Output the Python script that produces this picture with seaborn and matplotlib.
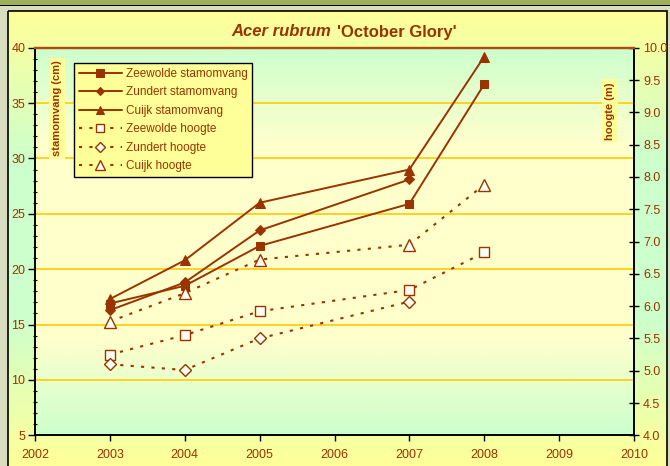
import numpy as np
import pandas as pd
import seaborn as sns
import matplotlib.pyplot as plt
from matplotlib.patches import Rectangle
from matplotlib.colors import LinearSegmentedColormap
from matplotlib.ticker import MultipleLocator, FormatStrFormatter

# data
jaren = [2003, 2004, 2005, 2007, 2008]
zeewolde_stam = [16.9, 18.5, 22.1, 25.9, 36.7]
zundert_stam = [16.3, 18.8, 23.5, 28.1, np.nan]
cuijk_stam = [17.3, 20.8, 26.0, 29.0, 39.2]
zeewolde_hoogte = [5.25, 5.55, 5.92, 6.25, 6.83]
zundert_hoogte = [5.10, 5.01, 5.50, 6.07, np.nan]
cuijk_hoogte = [5.76, 6.20, 6.72, 6.95, 7.88]

x_ticks = list(range(2002, 2011))

BROWN = '#993300'
GOLD = '#FFD21F'

sns.set_theme(style='white')
plt.rcParams['font.family'] = ['Liberation Sans', 'DejaVu Sans']

fig = plt.figure(figsize=(6.7, 4.66), dpi=100)
fig.patch.set_facecolor('#D8DDC0')

# frame of the chart (gradient yellow - green - yellow)
bg = fig.add_axes([0, 0, 1, 1], zorder=-10)
bg.set_xlim(0, 670)
bg.set_ylim(466, 0)
bg.axis('off')
frame_cmap = LinearSegmentedColormap.from_list('frame', ['#FFFF99', '#CCFFCC', '#CCFFCC', '#FFFF99'])
bg.imshow(np.linspace(0, 1, 256).reshape(-1, 1), cmap=frame_cmap, aspect='auto',
          extent=(8, 667, 466, 11), zorder=0)
bg.add_patch(Rectangle((8, 11), 659, 460, fill=False, edgecolor='black', lw=1.2, zorder=2))
bg.add_patch(Rectangle((0, 0), 670, 4.5, facecolor='#9CB05A', edgecolor='none', zorder=2))
bg.add_patch(Rectangle((0, 4.5), 670, 1.5, facecolor='black', edgecolor='none', zorder=2))

ax = fig.add_axes([35 / 670, 1 - 435.3 / 466, 599 / 670, 387.6 / 466])
ax.patch.set_visible(False)
plot_cmap = LinearSegmentedColormap.from_list('plot', ['#CCFFCC', '#FFFFCC', '#FFFFCC', '#FFFFCC', '#CCFFCC'])
ax.imshow(np.linspace(0, 1, 256).reshape(-1, 1), cmap=plot_cmap, aspect='auto',
          extent=(2002, 2010, 5, 40), origin='upper', zorder=0)

ax2 = ax.twinx()
ax2.patch.set_visible(False)

stam = pd.DataFrame({'jaar': jaren, 'Zeewolde': zeewolde_stam,
                     'Zundert': zundert_stam, 'Cuijk': cuijk_stam})
hoogte = pd.DataFrame({'jaar': jaren, 'Zeewolde': zeewolde_hoogte,
                       'Zundert': zundert_hoogte, 'Cuijk': cuijk_hoogte})
markers = {'Zeewolde': 's', 'Zundert': 'D', 'Cuijk': '^'}
msize = {'Zeewolde': 6, 'Zundert': 5, 'Cuijk': 7}

for plaats in ['Zeewolde', 'Zundert', 'Cuijk']:
    d = stam[['jaar', plaats]].dropna()
    sns.lineplot(data=d, x='jaar', y=plaats, ax=ax, color=BROWN, lw=1.4,
                 marker=markers[plaats], markersize=msize[plaats],
                 markeredgecolor=BROWN, markerfacecolor=BROWN,
                 label=f'{plaats} stamomvang', legend=False, zorder=5)
for plaats in ['Zeewolde', 'Zundert', 'Cuijk']:
    d = hoogte[['jaar', plaats]].dropna()
    sns.lineplot(data=d, x='jaar', y=plaats, ax=ax2, color=BROWN, lw=1.5,
                 linestyle=(0, (1.5, 3.5)),
                 marker=markers[plaats], markersize=msize[plaats] + 1,
                 markeredgecolor=BROWN, markerfacecolor='#FFFFF4', markeredgewidth=1.0,
                 label=f'{plaats} hoogte', legend=False, zorder=5)

ax.set_xlim(2002, 2010)
ax.set_ylim(5, 40)
ax2.set_ylim(4, 10)
ax.set_xticks(x_ticks)
ax.set_xticklabels([str(j) for j in x_ticks])
ax.yaxis.set_major_locator(MultipleLocator(5))
ax.yaxis.set_minor_locator(MultipleLocator(1))
ax2.yaxis.set_major_locator(MultipleLocator(0.5))
ax2.yaxis.set_major_formatter(FormatStrFormatter('%.1f'))

for yv in range(10, 40, 5):
    ax.axhline(yv, color=GOLD, lw=1.4, zorder=1)

ax.set_xlabel('')
ax.set_ylabel('')
ax2.set_ylabel('')

ax.tick_params(axis='x', which='major', direction='out', length=4, width=1,
               colors='black', labelcolor=BROWN, labelsize=9, pad=6, bottom=True)
ax.tick_params(axis='y', which='major', direction='out', length=5, width=1,
               colors='black', labelcolor=BROWN, labelsize=9, pad=2, left=True)
ax.tick_params(axis='y', which='minor', direction='inout', length=3, width=0.8,
               colors='black', left=True)
ax2.tick_params(axis='y', which='major', direction='inout', length=7, width=1,
                colors='black', labelcolor=BROWN, labelsize=9, pad=3, right=True)

for a in (ax, ax2):
    for side in ['left', 'right', 'bottom']:
        a.spines[side].set_color('black')
        a.spines[side].set_linewidth(1.2)
    a.spines['top'].set_color('#B04A10')
    a.spines['top'].set_linewidth(1.6)

# title: italic species name followed by cultivar name
fig.text(331 / 670, 1 - 32 / 466, 'Acer rubrum', color=BROWN, ha='right', va='center',
         fontsize=12, fontweight='bold', style='italic')
fig.text(337 / 670, 1 - 32 / 466, "'October Glory'", color=BROWN, ha='left', va='center',
         fontsize=12, fontweight='bold')

box = dict(boxstyle='square,pad=0.25', facecolor='#FFFF99', edgecolor='none')
ax.text(0.037, 0.843, 'stamomvang (cm)', transform=ax.transAxes, rotation=90,
        ha='center', va='center', fontsize=8, fontweight='bold', color=BROWN, bbox=box, zorder=6)
ax2.text(0.96, 0.837, 'hoogte (m)', transform=ax2.transAxes, rotation=90,
         ha='center', va='center', fontsize=8, fontweight='bold', color=BROWN, bbox=box, zorder=6)

h1, l1 = ax.get_legend_handles_labels()
h2, l2 = ax2.get_legend_handles_labels()
leg = ax2.legend(h1 + h2, l1 + l2, loc='upper left', bbox_to_anchor=(0.0656, 0.96),
                 borderaxespad=0, frameon=True, fancybox=False, fontsize=8.5,
                 handlelength=3.6, handletextpad=0.35, labelspacing=0.55,
                 borderpad=0.4, labelcolor=BROWN, markerscale=0.85)
leg.get_frame().set_facecolor('#FFFF99')
leg.get_frame().set_edgecolor('black')
leg.get_frame().set_linewidth(1.0)
leg.get_frame().set_alpha(1)
leg.set_zorder(10)

fig.savefig('out.png', dpi=100, facecolor=fig.get_facecolor())
